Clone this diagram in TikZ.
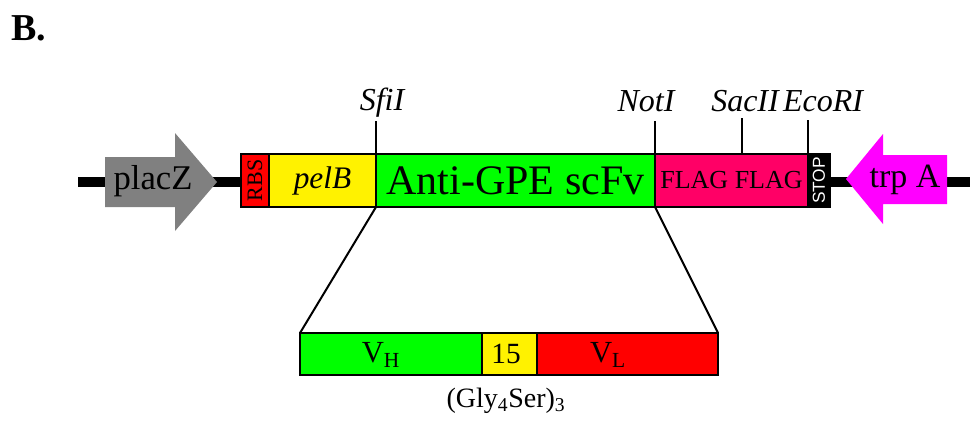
\documentclass[tikz,border=0pt]{standalone}
\usepackage{fontspec}
\setmainfont{Liberation Serif}
\newfontfamily\stopfont{Liberation Sans}
\usetikzlibrary{positioning}

\definecolor{flagpink}{RGB}{255,0,102}
\definecolor{lacgray}{RGB}{128,128,128}
\definecolor{trpmag}{RGB}{255,0,255}
\definecolor{scfvgreen}{RGB}{0,255,0}

\newcommand{\fsz}[1]{\fontsize{#1}{#1}\selectfont}

\begin{document}
\begin{tikzpicture}[x=0.75pt,y=-0.75pt,
  seg/.style={draw,line width=1.9pt,inner sep=0pt,outer sep=0pt,minimum height=53*0.75pt},
  subseg/.style={draw,line width=1.9pt,inner sep=0pt,outer sep=0pt,minimum height=42*0.75pt},
  site/.style={font=\fsz{24}\itshape,inner sep=0pt},
  cut/.style={line width=1.5pt}]
  \useasboundingbox (0,0) rectangle (970,422);

  \node[font=\fsz{28.5}\bfseries] (panel) at (29,28) {B.};

  % Rückgrat
  \coordinate (bbl) at (78,182);
  \coordinate (bbr) at (970,182);
  \draw[line width=7.5pt] (bbl) -- (bbr);

  % placZ und trp A
  \fill[lacgray] (105,157) -- (175,157) -- (175,133) -- (217,182) -- (175,231)
    -- (175,207) -- (105,207) -- cycle;
  \node[font=\fsz{26}] (placz) at (153,181) {placZ};
  \fill[trpmag] (846,179) -- (883,134) -- (883,155) -- (947,155) -- (947,204)
    -- (883,204) -- (883,224) -- cycle;
  \node[font=\fsz{25.5}] (trpa) at (905,180) {trp A};

  % Kassette
  \node[seg,fill=red,minimum width=28*0.75pt,anchor=west] (rbs) at (241,180.5) {};
  \node[rotate=90,font=\fsz{16.5}] (rbstxt) at (rbs) {RBS};
  \node[seg,fill=yellow,minimum width=107*0.75pt,right=0pt of rbs] (pelb)
    {\fsz{23.5}\itshape pelB};
  \node[seg,fill=scfvgreen,minimum width=279*0.75pt,right=0pt of pelb] (scfv)
    {\fsz{31.5}Anti-GPE scFv};
  \node[seg,fill=flagpink,minimum width=153*0.75pt,right=0pt of scfv] (flag)
    {\fsz{19.5}FLAG FLAG};
  \node[seg,fill=black,minimum width=22*0.75pt,right=0pt of flag] (stop) {};
  \node[rotate=90,text=white,font=\stopfont\fsz{13}] (stoptxt) at (stop) {STOP};

  % Schnittstellen
  \coordinate (sfi) at (376,121);
  \coordinate (not) at (655,121);
  \coordinate (sac) at (742,118);
  \coordinate (eco) at (808,120);
  \draw[cut] (sfi) -- (scfv.north west);
  \draw[cut] (not) -- (flag.north west);
  \draw[cut] (sac) -- (sac |- flag.north);
  \draw[cut] (eco) -- (eco |- stop.north);
  \node[site] (sfitxt) at (382,103) {SfiI};
  \node[site] (nottxt) at (646,101) {NotI};
  \node[site] (sactxt) at (745,101) {SacII};
  \node[site] (ecotxt) at (823,101) {EcoRI};

  % scFv im Detail
  \node[subseg,fill=scfvgreen,minimum width=182*0.75pt,anchor=west] (vh) at (300,354) {};
  \node[subseg,fill=yellow,minimum width=55*0.75pt,right=0pt of vh] (lnk) {};
  \node[subseg,fill=red,minimum width=181*0.75pt,right=0pt of lnk] (vl) {};
  \node[font=\fsz{23}] (vhtxt) at (381,355) {V\textsubscript{H}};
  \node[font=\fsz{22}] (lnktxt) at (506,354) {15};
  \node[font=\fsz{23}] (vltxt) at (608,355) {V\textsubscript{L}};
  \draw[cut] (scfv.south west) -- (vh.north west);
  \draw[cut] (scfv.south east) -- (vl.north east);
  \node[font=\fsz{21}] (gly) at (506,401) {(Gly\textsubscript{4}Ser)\textsubscript{3}};
\end{tikzpicture}
\end{document}
